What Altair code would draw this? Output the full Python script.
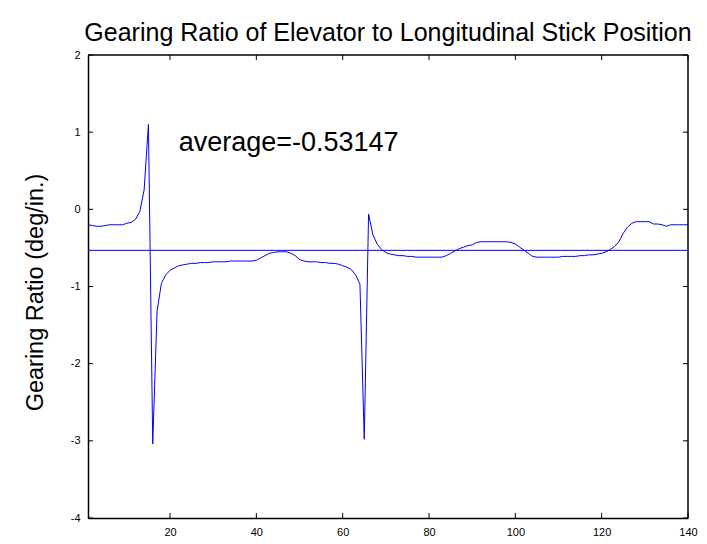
import altair as alt
import pandas as pd

# ---- data ----
sample_index = list(range(1, 141))
gearing_ratio = [
    -0.20, -0.21, -0.22, -0.22, -0.21, -0.20, -0.20, -0.20, -0.20, -0.18,
    -0.17, -0.13, -0.03, 0.25, 1.10, -3.04, -1.32, -0.96, -0.85, -0.79,
    -0.76, -0.73, -0.72, -0.71, -0.70, -0.70, -0.69, -0.69, -0.69, -0.68,
    -0.68, -0.68, -0.68, -0.67, -0.67, -0.67, -0.67, -0.67, -0.67, -0.66,
    -0.63, -0.60, -0.57, -0.56, -0.55, -0.55, -0.55, -0.57, -0.60, -0.65,
    -0.67, -0.68, -0.68, -0.68, -0.69, -0.69, -0.70, -0.70, -0.71, -0.73,
    -0.75, -0.78, -0.85, -0.97, -2.98, -0.06, -0.33, -0.45, -0.52, -0.56,
    -0.58, -0.59, -0.60, -0.60, -0.61, -0.61, -0.62, -0.62, -0.62, -0.62,
    -0.62, -0.62, -0.62, -0.60, -0.57, -0.54, -0.51, -0.49, -0.47, -0.46,
    -0.43, -0.42, -0.42, -0.42, -0.42, -0.42, -0.42, -0.42, -0.43, -0.45,
    -0.49, -0.53, -0.57, -0.61, -0.62, -0.62, -0.62, -0.62, -0.62, -0.62,
    -0.61, -0.61, -0.61, -0.61, -0.60, -0.60, -0.59, -0.59, -0.58, -0.57,
    -0.55, -0.52, -0.48, -0.42, -0.31, -0.23, -0.18, -0.16, -0.16, -0.16,
    -0.16, -0.19, -0.19, -0.20, -0.22, -0.20, -0.20, -0.20, -0.20, -0.20,
]
average_value = -0.53147
average_label = "average=-0.53147"
x_tick_values = [20, 40, 60, 80, 100, 120, 140]
y_tick_values = [-4, -3, -2, -1, 0, 1, 2]
x_domain = [1, 140]
y_domain = [-4, 2]
chart_title = "Gearing Ratio of Elevator to Longitudinal Stick Position"
y_title = "Gearing Ratio (deg/in.)"

W, H = 600, 463
FONT = "Liberation Sans"
BLUE = "#0000ff"

df = pd.DataFrame({"x": sample_index, "g": gearing_ratio})
df_avg = pd.DataFrame({"avg": [average_value]})
df_xt = pd.DataFrame({"t": x_tick_values})
df_yt = pd.DataFrame({"t": y_tick_values})

xscale = alt.Scale(domain=x_domain, nice=False, zero=False)
yscale = alt.Scale(domain=y_domain, nice=False, zero=False)

plain_label = "toString(datum.value)"

x_axis = alt.Axis(values=x_tick_values, ticks=False, domain=True,
                  domainColor="black", domainWidth=1.5, grid=False,
                  labelFont=FONT, labelFontSize=11, labelColor="black",
                  labelPadding=8, title=None, labelFlush=False,
                  labelExpr=plain_label)
y_axis = alt.Axis(values=y_tick_values, ticks=False, domain=True,
                  domainColor="black", domainWidth=1.5, grid=False,
                  labelFont=FONT, labelFontSize=11, labelColor="black",
                  labelPadding=8, title=y_title, titleFont=FONT,
                  titleFontSize=23.5, titleFontWeight="normal", titleColor="black",
                  titleX=-53, titleY=237, titleAngle=-90, titleAlign="center",
                  titleBaseline="middle", labelFlush=False,
                  labelExpr=plain_label)

line = alt.Chart(df).mark_line(color=BLUE, strokeWidth=1).encode(
    x=alt.X("x:Q", scale=xscale, axis=x_axis),
    y=alt.Y("g:Q", scale=yscale, axis=y_axis),
)

avg_rule = alt.Chart(df_avg).mark_rule(color=BLUE, strokeWidth=1).encode(
    y=alt.Y("avg:Q", scale=yscale)
)

label = alt.Chart(df_avg).mark_text(
    align="left", baseline="middle", font=FONT, fontSize=27, color="black"
).encode(
    x=alt.datum(22, scale=xscale),
    y=alt.datum(0.86, scale=yscale),
    text=alt.value(average_label),
)

# top and right edges of the box
frame_top = alt.Chart(df_avg).mark_rule(color="black", strokeWidth=1.5).encode(
    x=alt.value(0), x2=alt.value(W), y=alt.value(0))
frame_right = alt.Chart(df_avg).mark_rule(color="black", strokeWidth=1.5).encode(
    x=alt.value(W), y=alt.value(0), y2=alt.value(H))

TL = 5
tick_bottom = alt.Chart(df_xt).mark_rule(color="black", strokeWidth=1).encode(
    x=alt.X("t:Q", scale=xscale), y=alt.value(H), y2=alt.value(H - TL))
tick_top = alt.Chart(df_xt).mark_rule(color="black", strokeWidth=1).encode(
    x=alt.X("t:Q", scale=xscale), y=alt.value(0), y2=alt.value(TL))
tick_left = alt.Chart(df_yt).mark_rule(color="black", strokeWidth=1).encode(
    y=alt.Y("t:Q", scale=yscale), x=alt.value(0), x2=alt.value(TL))
tick_right = alt.Chart(df_yt).mark_rule(color="black", strokeWidth=1).encode(
    y=alt.Y("t:Q", scale=yscale), x=alt.value(W - TL), x2=alt.value(W))

chart = alt.layer(
    line, avg_rule, label, frame_top, frame_right,
    tick_bottom, tick_top, tick_left, tick_right
).properties(
    width=W, height=H,
    title=alt.TitleParams(chart_title, font=FONT, fontSize=25, fontWeight="normal",
                          color="black", anchor="middle", frame="group", offset=3),
    autosize=alt.AutoSizeParams(type="none"),
    padding={"left": 80, "top": 47, "right": 11, "bottom": 18},
).configure(
    background="white"
).configure_view(
    stroke=None
)

chart.save("out.html", embed_options={"renderer": "svg", "actions": False})
